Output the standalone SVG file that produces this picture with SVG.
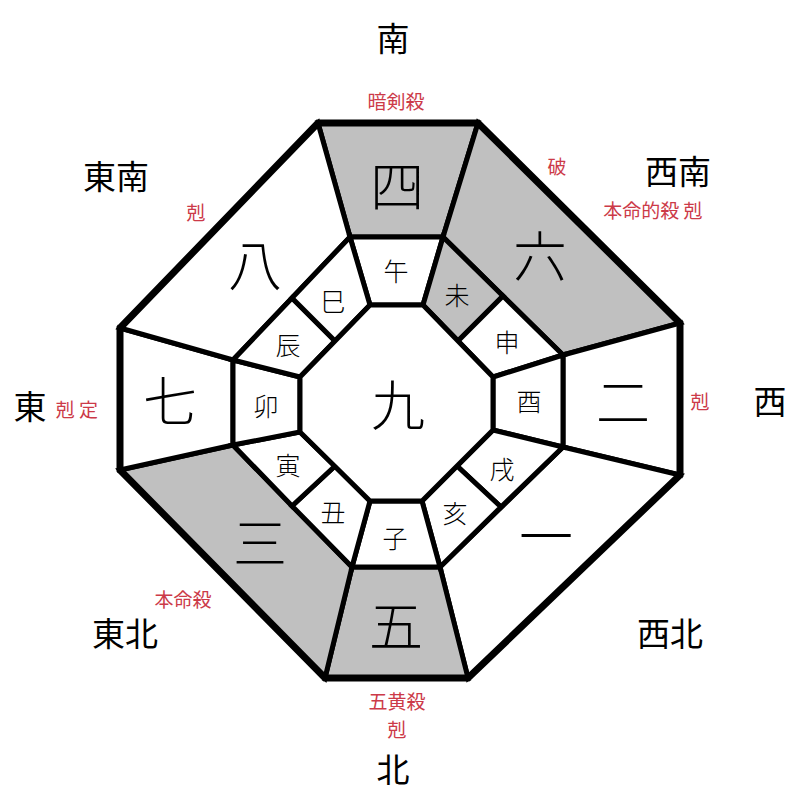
<svg xmlns="http://www.w3.org/2000/svg" width="800" height="800" viewBox="0 0 800 800">
<style>
.cell{stroke:#000;stroke-width:5;stroke-linejoin:miter}
.w{fill:#fff}
.g{fill:#c0c0c0}
.num{font-family:"Noto Sans CJK JP","Noto Sans CJK SC",sans-serif;font-size:54px;font-weight:300;text-anchor:middle;dominant-baseline:central;fill:#000}
.zod{font-family:"Noto Sans CJK JP","Noto Sans CJK SC",sans-serif;font-size:25px;font-weight:300;text-anchor:middle;dominant-baseline:central;fill:#000}
.dir{font-family:"Noto Sans CJK JP","Noto Sans CJK SC",sans-serif;font-size:33px;text-anchor:middle;dominant-baseline:central;fill:#000}
.red{font-family:"Noto Sans CJK JP","Noto Sans CJK SC",sans-serif;font-size:19px;text-anchor:middle;dominant-baseline:central;fill:#cc3a48}
</style>
<rect width="800" height="800" fill="#fff"/>
<g id="outer-ring">
<g id="cell-4"><polygon class="cell g" points="318,123 478,123 443,237 350,237"/><text class="num" x="397" y="183">四</text></g>
<g id="cell-6"><polygon class="cell g" points="478,123 680,323 563,355 443,237"/><text class="num" x="540" y="253">六</text></g>
<g id="cell-2"><polygon class="cell w" points="680,323 680,475 563,447 563,355"/><text class="num" x="623" y="399">二</text></g>
<g id="cell-1"><polygon class="cell w" points="680,475 468,678 440,567 563,447"/><text class="num" x="546" y="533">一</text></g>
<g id="cell-5"><polygon class="cell g" points="468,678 325,678 352,567 440,567"/><text class="num" x="396" y="623">五</text></g>
<g id="cell-3"><polygon class="cell g" points="325,678 120,470 233,445 352,567"/><text class="num" x="260" y="540">三</text></g>
<g id="cell-7"><polygon class="cell w" points="120,470 120,328 233,360 233,445"/><text class="num" x="170" y="398">七</text></g>
<g id="cell-8"><polygon class="cell w" points="120,328 318,123 350,237 233,360"/><text class="num" x="255" y="262">八</text></g>
</g>
<g id="inner-ring">
<g id="z-uma"><polygon class="cell w" points="350,237 443,237 423,305 370,305"/><text class="zod" x="396" y="270">午</text></g>
<g id="z-hitsuji"><polygon class="cell g" points="443,237 503,296 458,341 423,305"/><text class="zod" x="457" y="294">未</text></g>
<g id="z-saru"><polygon class="cell w" points="503,296 563,355 493,377 458,341"/><text class="zod" x="507" y="341">申</text></g>
<g id="z-tori"><polygon class="cell w" points="563,355 563,447 493,430 493,377"/><text class="zod" x="529" y="400">酉</text></g>
<g id="z-inu"><polygon class="cell w" points="563,447 501,507 457,466 493,430"/><text class="zod" x="502" y="468">戌</text></g>
<g id="z-i"><polygon class="cell w" points="501,507 440,567 422,501 457,466"/><text class="zod" x="455" y="512">亥</text></g>
<g id="z-ne"><polygon class="cell w" points="440,567 352,567 370,501 422,501"/><text class="zod" x="395" y="537">子</text></g>
<g id="z-ushi"><polygon class="cell w" points="352,567 292,506 335,466 370,501"/><text class="zod" x="333" y="511">丑</text></g>
<g id="z-tora"><polygon class="cell w" points="292,506 233,445 300,432 335,466"/><text class="zod" x="288" y="464">寅</text></g>
<g id="z-u"><polygon class="cell w" points="233,445 233,360 300,377 300,432"/><text class="zod" x="266" y="405">卯</text></g>
<g id="z-tatsu"><polygon class="cell w" points="233,360 292,298 335,341 300,377"/><text class="zod" x="288" y="344">辰</text></g>
<g id="z-mi"><polygon class="cell w" points="292,298 350,237 370,305 335,341"/><text class="zod" x="333" y="300">巳</text></g>
</g>
<g id="center">
<polygon class="cell w" stroke-width="6" points="370,305 423,305 493,377 493,430 422,501 370,501 300,432 300,377"/>
<text class="num" x="398" y="402">九</text>
</g>
<g id="frame">
<polygon fill="none" stroke="#000" stroke-width="7" points="318,123 478,123 680,323 680,475 468,678 325,678 120,470 120,328"/>
</g>
<g id="directions">
<text class="dir" x="393" y="37">南</text>
<text class="dir" x="116" y="175">東南</text>
<text class="dir" x="678" y="170">西南</text>
<text class="dir" x="30" y="405">東</text>
<text class="dir" x="770" y="400">西</text>
<text class="dir" x="125" y="632">東北</text>
<text class="dir" x="670" y="632">西北</text>
<text class="dir" x="393" y="768">北</text>
</g>
<g id="notes">
<text class="red" x="396" y="100">暗剣殺</text>
<text class="red" x="557" y="165">破</text>
<text class="red" x="653" y="209">本命的殺  剋</text>
<text class="red" x="196" y="211">剋</text>
<text class="red" x="77" y="408">剋 定</text>
<text class="red" x="700" y="400">剋</text>
<text class="red" x="183" y="598">本命殺</text>
<text class="red" x="397" y="700">五黄殺</text>
<text class="red" x="397" y="728">剋</text>
</g>
</svg>
